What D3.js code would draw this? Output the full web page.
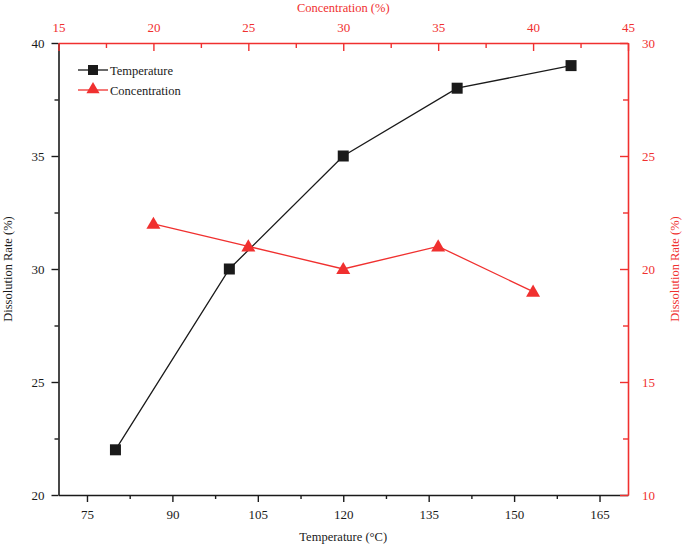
<!DOCTYPE html>
<html>
<head>
<meta charset="utf-8">
<script src="https://cdn.jsdelivr.net/npm/d3@7"></script>
<style>
  body { margin: 0; background: #fff; }
  text { font-family: "Liberation Serif", "Times New Roman", serif; }
</style>
</head>
<body>
<div id="chart"></div>
<script>
// temperature series (bottom / left axes)
const tempX = [80, 100, 120, 140, 160];
const tempY = [22, 30, 35, 38, 39];
// concentration series (top / right axes)
const concX = [20, 25, 30, 35, 40];
const concY = [22, 21, 20, 21, 19];

const bottomTicks = [75, 90, 105, 120, 135, 150, 165];
const topTicks = [15, 20, 25, 30, 35, 40, 45];
const leftTicks = [20, 25, 30, 35, 40];
const rightTicks = [10, 15, 20, 25, 30];

const RED = "#f0302f";
const BLACK = "#1a1a1a";

const W = 682, H = 547;
const margin = { top: 43, right: 54, bottom: 52, left: 58.5 };
const width = W - margin.left - margin.right,
    height = H - margin.top - margin.bottom;

const svg = d3.select("#chart").append("svg")
    .attr("width", W).attr("height", H);
const g = svg.append("g")
    .attr("transform", "translate(" + margin.left + "," + margin.top + ")");

const x = d3.scaleLinear().domain([70, 170]).range([0, width]);
const x2 = d3.scaleLinear().domain([15, 45]).range([0, width]);
const y = d3.scaleLinear().domain([20, 40]).range([height, 0]);
const y2 = d3.scaleLinear().domain([10, 30]).range([height, 0]);

// minor tick helper
function minors(ticks) {
    let out = [];
    for (let i = 0; i < ticks.length - 1; i++) out.push((ticks[i] + ticks[i + 1]) / 2);
    return out;
}

function styleAxis(sel, color) {
    sel.select(".domain").attr("stroke", color).attr("stroke-width", 1.6);
    sel.selectAll(".tick line").attr("stroke", color).attr("stroke-width", 1.4);
    sel.selectAll(".tick text").attr("fill", color)
        .style("font-family", "Liberation Serif, serif").style("font-size", "13px");
}

// bottom axis
let gb = g.append("g").attr("transform", "translate(0," + height + ")")
    .call(d3.axisBottom(x).tickValues(bottomTicks).tickSize(7).tickPadding(8).tickSizeOuter(0));
styleAxis(gb, BLACK);
g.append("g").attr("transform", "translate(0," + height + ")")
    .call(d3.axisBottom(x).tickValues(d3.range(82.5, 170, 15)).tickSize(4).tickFormat("").tickSizeOuter(0))
    .call(s => { s.select(".domain").remove(); s.selectAll("line").attr("stroke", BLACK).attr("stroke-width", 1.4); });

// left axis
let gl = g.append("g")
    .call(d3.axisLeft(y).tickValues(leftTicks).tickSize(7).tickPadding(7).tickSizeOuter(0));
styleAxis(gl, BLACK);
g.append("g")
    .call(d3.axisLeft(y).tickValues(minors(leftTicks)).tickSize(4).tickFormat("").tickSizeOuter(0))
    .call(s => { s.select(".domain").remove(); s.selectAll("line").attr("stroke", BLACK).attr("stroke-width", 1.4); });

// top axis (ticks inward)
let gt = g.append("g")
    .call(d3.axisTop(x2).tickValues(topTicks).tickSize(-8).tickSizeOuter(0));
styleAxis(gt, RED);
gt.selectAll(".tick text").attr("y", -11);
g.append("g")
    .call(d3.axisTop(x2).tickValues(minors(topTicks)).tickSize(-5).tickFormat("").tickSizeOuter(0))
    .call(s => { s.select(".domain").remove(); s.selectAll("line").attr("stroke", RED).attr("stroke-width", 1.4); });

// right axis (ticks inward)
let gr = g.append("g").attr("transform", "translate(" + width + ",0)")
    .call(d3.axisRight(y2).tickValues(rightTicks).tickSize(-8).tickSizeOuter(0));
styleAxis(gr, RED);
gr.selectAll(".tick text").attr("x", 14);
g.append("g").attr("transform", "translate(" + width + ",0)")
    .call(d3.axisRight(y2).tickValues(minors(rightTicks)).tickSize(-5).tickFormat("").tickSizeOuter(0))
    .call(s => { s.select(".domain").remove(); s.selectAll("line").attr("stroke", RED).attr("stroke-width", 1.4); });

// axis titles
svg.append("text").attr("x", margin.left + width / 2).attr("y", 541)
    .attr("text-anchor", "middle").style("font-size", "12.5px").attr("fill", BLACK)
    .text("Temperature (°C)");
svg.append("text").attr("x", margin.left + width / 2).attr("y", 12)
    .attr("text-anchor", "middle").style("font-size", "12.5px").attr("fill", RED)
    .text("Concentration (%)");
svg.append("text")
    .attr("transform", "translate(12," + (margin.top + height / 2) + ") rotate(-90)")
    .attr("text-anchor", "middle").style("font-size", "12.5px").attr("fill", BLACK)
    .text("Dissolution Rate (%)");
svg.append("text")
    .attr("transform", "translate(679," + (margin.top + height / 2) + ") rotate(-90)")
    .attr("text-anchor", "middle").style("font-size", "12.5px").attr("fill", RED)
    .text("Dissolution Rate (%)");

// temperature line
const tData = tempX.map((v, i) => ({ x: v, y: tempY[i] }));
g.append("path").datum(tData)
    .attr("fill", "none").attr("stroke", BLACK).attr("stroke-width", 1.3)
    .attr("d", d3.line().x(d => x(d.x)).y(d => y(d.y)));
g.selectAll(".sq").data(tData).enter().append("rect")
    .attr("x", d => x(d.x) - 5.5).attr("y", d => y(d.y) - 5.5)
    .attr("width", 11).attr("height", 11).attr("fill", BLACK);

// concentration line
const cData = concX.map((v, i) => ({ x: v, y: concY[i] }));
g.append("path").datum(cData)
    .attr("fill", "none").attr("stroke", RED).attr("stroke-width", 1.3)
    .attr("d", d3.line().x(d => x2(d.x)).y(d => y2(d.y)));
const tri = d3.symbol().type(d3.symbolTriangle).size(85);
g.selectAll(".tri").data(cData).enter().append("path")
    .attr("transform", d => "translate(" + x2(d.x) + "," + (y2(d.y) + 1) + ")")
    .attr("d", tri).attr("fill", RED);

// legend
const legend = [
    { name: "Temperature", color: BLACK, shape: "sq", y: 70 },
    { name: "Concentration", color: RED, shape: "tri", y: 90 }
];
legend.forEach(function(l) {
    svg.append("line").attr("x1", 78).attr("x2", 108).attr("y1", l.y).attr("y2", l.y)
        .attr("stroke", l.color).attr("stroke-width", 1.3);
    if (l.shape === "sq") {
        svg.append("rect").attr("x", 88).attr("y", l.y - 5).attr("width", 10).attr("height", 10).attr("fill", l.color);
    } else {
        svg.append("path").attr("transform", "translate(93," + (l.y - 0.5) + ")")
            .attr("d", d3.symbol().type(d3.symbolTriangle).size(75)).attr("fill", l.color);
    }
    svg.append("text").attr("x", 110).attr("y", l.y + 4.5)
        .style("font-size", "12.5px").attr("fill", BLACK).text(l.name);
});
</script>
</body>
</html>
